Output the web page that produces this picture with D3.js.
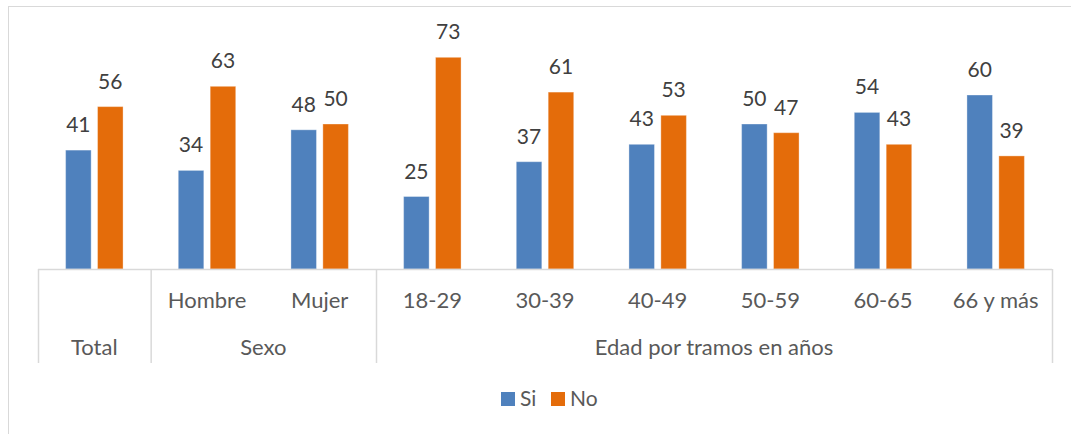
<!DOCTYPE html>
<html>
<head>
<meta charset="utf-8">
<script src="https://cdn.jsdelivr.net/npm/d3@7"></script>
<style>
  html, body { margin: 0; padding: 0; background: #fff; }
  svg { display: block; }
  text { font-family: Lato, "Open Sans", sans-serif; }
</style>
</head>
<body>
<div id="chart"></div>
<script>
// Categories along the x axis (first level) and their groups (second level)
const categories = ["Total", "Hombre", "Mujer", "18-29", "30-39", "40-49", "50-59", "60-65", "66 y más"];
const categoryLabels = ["", "Hombre", "Mujer", "18-29", "30-39", "40-49", "50-59", "60-65", "66 y más"];
const groupNames = ["Total", "Sexo", "Edad por tramos en años"];
const groupStart = [0, 1, 3];
const groupEnd = [0, 2, 8];

// Series values (%)
const seriesNames = ["Si", "No"];
const valuesSi = [41, 34, 48, 25, 37, 43, 50, 54, 60];
const valuesNo = [56, 63, 50, 73, 61, 53, 47, 43, 39];
const seriesColors = ["#4f81bd", "#e46c0a"];

const W = 1071, H = 434;
const left = 38, right = 1052, baseY = 269, topY = 37;
const axisBottom = 363;

const svg = d3.select("#chart").append("svg")
  .attr("width", W).attr("height", H);

// Chart frame
svg.append("rect")
  .attr("x", 8.5).attr("y", 6.5)
  .attr("width", 1200).attr("height", 600)
  .attr("fill", "#fff").attr("stroke", "#d9d9d9").attr("stroke-width", 1);

const x = d3.scaleBand()
  .domain(categories)
  .range([left, right])
  .paddingInner(0.49)
  .paddingOuter(0.245);

const xs = d3.scaleBand()
  .domain(seriesNames)
  .range([0, x.bandwidth()])
  .paddingInner(0.2);

const y = d3.scaleLinear().domain([0, 80]).range([baseY, topY]);

const rows = categories.map((c, i) => ({ cat: c, Si: valuesSi[i], No: valuesNo[i] }));

// Bars
const groups = svg.append("g").selectAll("g")
  .data(rows).join("g")
  .attr("transform", d => `translate(${x(d.cat)},0)`);

groups.selectAll("rect")
  .data(d => seriesNames.map((s, k) => ({ s, k, v: d[s] })))
  .join("rect")
  .attr("x", d => xs(d.s))
  .attr("y", d => y(d.v))
  .attr("width", xs.bandwidth())
  .attr("height", d => baseY - y(d.v))
  .attr("fill", d => seriesColors[d.k])
  .attr("stroke", "rgba(255,255,255,0.35)")
  .attr("stroke-width", 1);

// Value labels
groups.selectAll("text.val")
  .data(d => seriesNames.map((s, k) => ({ s, k, v: d[s] })))
  .join("text")
  .attr("class", "val")
  .attr("x", d => xs(d.s) + xs.bandwidth() / 2)
  .attr("y", d => y(d.v) - 18)
  .attr("text-anchor", "middle")
  .attr("font-size", 21)
  .attr("fill", "#404040")
  .text(d => d.v);

// Multi-level category axis
const axisG = svg.append("g");
axisG.append("line")
  .attr("x1", left).attr("x2", right)
  .attr("y1", baseY + 0.5).attr("y2", baseY + 0.5)
  .attr("stroke", "#d9d9d9").attr("stroke-width", 1.5);

const step = x.step();
const edge = i => left + i * step;
const dividers = [0].concat(groupEnd.map(e => e + 1));
axisG.selectAll("line.div")
  .data(dividers).join("line")
  .attr("class", "div")
  .attr("x1", d => edge(d) + 0.5).attr("x2", d => edge(d) + 0.5)
  .attr("y1", baseY).attr("y2", axisBottom)
  .attr("stroke", "#d9d9d9").attr("stroke-width", 1.5);

axisG.selectAll("text.cat")
  .data(categoryLabels).join("text")
  .attr("class", "cat")
  .attr("x", (d, i) => x(categories[i]) + x.bandwidth() / 2)
  .attr("y", 308)
  .attr("text-anchor", "middle")
  .attr("font-size", 22)
  .attr("fill", "#595959")
  .text(d => d);

axisG.selectAll("text.grp")
  .data(groupNames).join("text")
  .attr("class", "grp")
  .attr("x", (d, i) => (edge(groupStart[i]) + edge(groupEnd[i] + 1)) / 2)
  .attr("y", 355)
  .attr("text-anchor", "middle")
  .attr("font-size", 22)
  .attr("fill", "#595959")
  .text(d => d);

// Legend
const legend = svg.append("g").attr("transform", "translate(501,392)");
const legendOffsets = [0, 50];
seriesNames.forEach((s, k) => {
  const g = legend.append("g").attr("transform", `translate(${legendOffsets[k]},0)`);
  g.append("rect").attr("width", 14).attr("height", 14).attr("fill", seriesColors[k]);
  g.append("text").attr("x", 19).attr("y", 14)
    .attr("font-size", 21).attr("fill", "#595959").text(s);
});
</script>
</body>
</html>
